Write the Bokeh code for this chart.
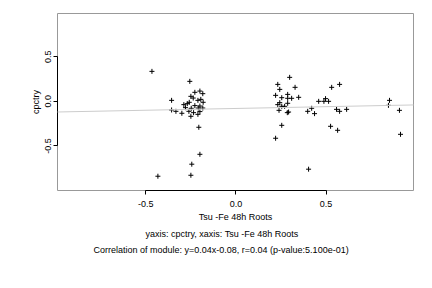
from bokeh.plotting import figure
from bokeh.models import Range1d, Slope, Title, FixedTicker, CustomJSTickFormatter
from bokeh.embed import file_html
from bokeh.resources import INLINE

# data
x_vals = [-0.466, -0.256, -0.228, -0.200, -0.184, -0.357, -0.250, -0.237, -0.211, -0.195,
          -0.182, -0.289, -0.270, -0.259, -0.228, -0.200, -0.280, -0.248, -0.209, -0.184,
          -0.357, -0.333, -0.300, -0.261, -0.235, -0.211, -0.200, -0.250, -0.206, -0.200,
          -0.245, -0.250, -0.433,
          0.298, 0.232, 0.243, 0.328, 0.575, 0.531, 0.220, 0.287, 0.254, 0.287,
          0.309, 0.348, 0.497, 0.459, 0.488, 0.514, 0.852, 0.243, 0.287, 0.232,
          0.254, 0.270, 0.846, 0.239, 0.420, 0.558, 0.614, 0.398, 0.907, 0.285,
          0.292, 0.436, 0.575, 0.254, 0.525, 0.564, 0.913, 0.220, 0.403]
y_vals = [0.336, 0.224, 0.101, 0.115, 0.086, 0.011, 0.056, 0.037, 0.011, 0.022,
          -0.011, -0.037, -0.026, -0.011, -0.048, -0.053, -0.071, -0.078, -0.075, -0.075,
          -0.097, -0.112, -0.134, -0.112, -0.127, -0.146, -0.115, -0.168, -0.291, -0.594,
          -0.705, -0.829, -0.840,
          0.269, 0.190, 0.134, 0.157, 0.190, 0.157, 0.067, 0.078, 0.041, 0.034,
          0.034, 0.045, 0.030, 0.000, 0.000, 0.000, 0.011, -0.015, -0.022, -0.037,
          -0.056, -0.056, -0.045, -0.101, -0.078, -0.090, -0.090, -0.112, -0.101, -0.127,
          -0.120, -0.138, -0.112, -0.269, -0.280, -0.325, -0.370, -0.414, -0.761]
slope = 0.04
intercept = -0.08
tick_values = [-0.5, 0.0, 0.5]
x_label = "Tsu -Fe 48h Roots"
y_label = "cpctry"
subtitle1 = "yaxis: cpctry, xaxis: Tsu -Fe 48h Roots"
subtitle2 = "Correlation of module: y=0.04x-0.08, r=0.04 (p-value:5.100e-01)"

FONT = "Liberation Sans"
FS = "9px"

p = figure(width=432, height=288, output_backend="svg", toolbar_location=None,
           x_range=Range1d(-0.99, 0.985), y_range=Range1d(-1.0, 0.985),
           min_border_left=57, min_border_right=19, min_border_top=13, min_border_bottom=98)
p.grid.visible = False
p.outline_line_color = "#999999"
p.outline_line_width = 1
p.background_fill_color = "white"
p.border_fill_color = "white"

p.add_layout(Slope(gradient=slope, y_intercept=intercept, line_color="#cccccc", line_width=1))
p.scatter(x_vals, y_vals, marker="cross", size=5, line_color="black", line_width=1)

for ax in (p.xaxis[0], p.yaxis[0]):
    ax.ticker = FixedTicker(ticks=tick_values)
    ax.formatter = CustomJSTickFormatter(code="return tick.toFixed(1);")
    ax.bounds = (tick_values[0], tick_values[-1])
    ax.axis_line_color = "black"
    ax.major_tick_line_color = "black"
    ax.major_tick_out = 4
    ax.major_tick_in = 0
    ax.minor_tick_line_color = None
    ax.major_label_text_font = FONT
    ax.major_label_text_font_size = FS
    ax.major_label_text_color = "black"
    ax.axis_label_text_font = FONT
    ax.axis_label_text_font_size = FS
    ax.axis_label_text_font_style = "normal"
    ax.axis_label_text_color = "black"

p.xaxis[0].axis_label = x_label
p.yaxis[0].axis_label = y_label
p.yaxis[0].major_label_orientation = "vertical"
p.xaxis[0].major_label_standoff = 6
p.xaxis[0].axis_label_standoff = 2
p.yaxis[0].major_label_standoff = 2
p.yaxis[0].axis_label_standoff = 2

for txt, off in ((subtitle1, 88), (subtitle2, 36)):
    t = Title(text=txt, align="left", text_font=FONT, text_font_size=FS,
              text_font_style="normal", text_color="black", standoff=4, offset=off)
    p.add_layout(t, "below")

open("out.html", "w").write(file_html(p, INLINE))
